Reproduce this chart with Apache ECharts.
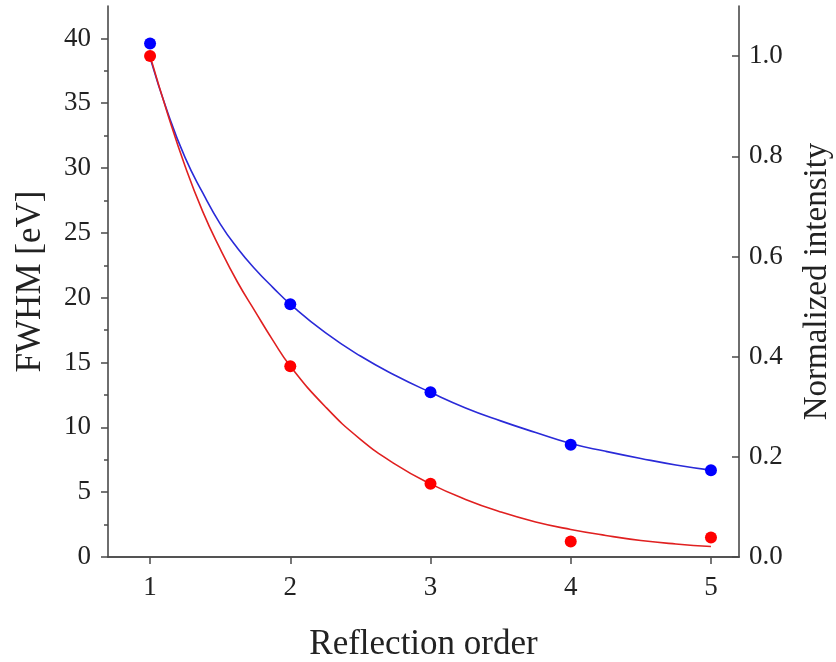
<!DOCTYPE html>
<html>
<head>
<meta charset="utf-8">
<script src="https://cdn.jsdelivr.net/npm/echarts@6/dist/echarts.min.js"></script>
<style>
html,body{margin:0;padding:0;background:#fff;}
#chart{width:836px;height:662px;}
</style>
</head>
<body>
<div id="chart"></div>
<script>
// Measured points
var orders = [1, 2, 3, 4, 5];
var fwhm = [39.6, 19.5, 12.7, 8.65, 6.7];          // blue, left axis [eV]
var intensity = [1.0, 0.381, 0.146, 0.031, 0.039]; // red, right axis

// Fit curves
var fitX     = [1, 1.125, 1.25, 1.375, 1.5, 1.625, 1.75, 1.875, 2, 2.25, 2.5, 2.75, 3, 3.25, 3.5, 3.75, 4, 4.25, 4.5, 4.75, 5];
var blueFitY = [38.5, 34.3, 30.8, 28.1, 25.7, 23.8, 22.2, 20.8, 19.5, 17.3, 15.5, 14.0, 12.7, 11.5, 10.5, 9.6, 8.75, 8.15, 7.6, 7.1, 6.7];
var redFitY  = [1.0, 0.885, 0.78, 0.69, 0.615, 0.548, 0.49, 0.433, 0.381, 0.30, 0.235, 0.185, 0.146, 0.115, 0.090, 0.070, 0.055, 0.043, 0.033, 0.026, 0.021];

var xTicks = [1, 2, 3, 4, 5];
var leftTicks = [0, 5, 10, 15, 20, 25, 30, 35, 40];
var leftMinorTicks = [2.5, 7.5, 12.5, 17.5, 22.5, 27.5, 32.5, 37.5];
var rightTicks = [0, 0.2, 0.4, 0.6, 0.8, 1.0];

function zip(a, b) { return a.map(function (v, i) { return [v, b[i]]; }); }

var font = 'Liberation Serif';
var txt = '#222';
var axisColor = '#4a4a4a';
var axisLine = { show: true, lineStyle: { color: axisColor, width: 1.6 } };

var chart = echarts.init(document.getElementById('chart'));
chart.setOption({
  animation: false,
  backgroundColor: '#fff',
  grid: { left: 108, right: 97, top: 6, bottom: 105, containLabel: false, outerBoundsMode: 'none' },
  xAxis: [
    {
      type: 'value', min: 0.7, max: 5.2, position: 'bottom',
      name: 'Reflection order', nameLocation: 'middle', nameGap: 70,
      nameTextStyle: { fontFamily: font, fontSize: 35, color: txt },
      axisLine: axisLine,
      axisTick: { show: true, inside: false, length: 7, customValues: xTicks, lineStyle: { color: axisColor, width: 1.5 } },
      axisLabel: { customValues: xTicks, margin: 17, fontFamily: font, fontSize: 27, color: txt },
      splitLine: { show: false }
    },
    {
      type: 'value', min: 0.7, max: 5.2, position: 'top',
      axisLine: axisLine,
      axisTick: { show: true, inside: true, length: 7, customValues: xTicks, lineStyle: { color: axisColor, width: 1.5 } },
      axisLabel: { show: false },
      splitLine: { show: false }
    }
  ],
  yAxis: [
    {
      type: 'value', min: 0, max: 42.5, position: 'left',
      name: 'FWHM [eV]', nameLocation: 'middle', nameGap: 60, nameRotate: 90,
      nameTextStyle: { fontFamily: font, fontSize: 35, color: txt },
      axisLine: axisLine,
      axisTick: { show: true, inside: false, length: 7, customValues: leftTicks, lineStyle: { color: axisColor, width: 1.5 } },
      axisLabel: { customValues: leftTicks, margin: 17, fontFamily: font, fontSize: 27, color: txt },
      splitLine: { show: false }
    },
    {
      type: 'value', min: 0, max: 1.1, position: 'right',
      name: 'Normalized intensity', nameLocation: 'middle', nameGap: 62, nameRotate: 90,
      nameTextStyle: { fontFamily: font, fontSize: 33, color: txt },
      axisLine: axisLine,
      axisTick: { show: true, inside: true, length: 7, customValues: rightTicks, lineStyle: { color: axisColor, width: 1.5 } },
      axisLabel: { customValues: rightTicks, margin: 10, fontFamily: font, fontSize: 27, color: txt,
        formatter: function (v) { return v.toFixed(1); } },
      splitLine: { show: false }
    },
    {
      type: 'value', min: 0, max: 42.5, position: 'left',
      axisLine: { show: false },
      axisTick: { show: true, inside: false, length: 4, customValues: leftMinorTicks, lineStyle: { color: axisColor, width: 1.5 } },
      axisLabel: { show: false },
      splitLine: { show: false }
    }
  ],
  series: [
    {
      type: 'line', xAxisIndex: 0, yAxisIndex: 0, data: zip(fitX, blueFitY),
      smooth: 0.5, showSymbol: false, symbol: 'none',
      lineStyle: { color: '#2a2ad8', width: 1.6 }, z: 2
    },
    {
      type: 'line', xAxisIndex: 0, yAxisIndex: 1, data: zip(fitX, redFitY),
      smooth: 0.5, showSymbol: false, symbol: 'none',
      lineStyle: { color: '#e02020', width: 1.6 }, z: 2
    },
    {
      type: 'scatter', xAxisIndex: 0, yAxisIndex: 0, data: zip(orders, fwhm),
      symbol: 'circle', symbolSize: 12, itemStyle: { color: '#0000ff', opacity: 1 }, z: 3
    },
    {
      type: 'scatter', xAxisIndex: 0, yAxisIndex: 1, data: zip(orders, intensity),
      symbol: 'circle', symbolSize: 12, itemStyle: { color: '#ff0000', opacity: 1 }, z: 3
    }
  ]
});
</script>
</body>
</html>
